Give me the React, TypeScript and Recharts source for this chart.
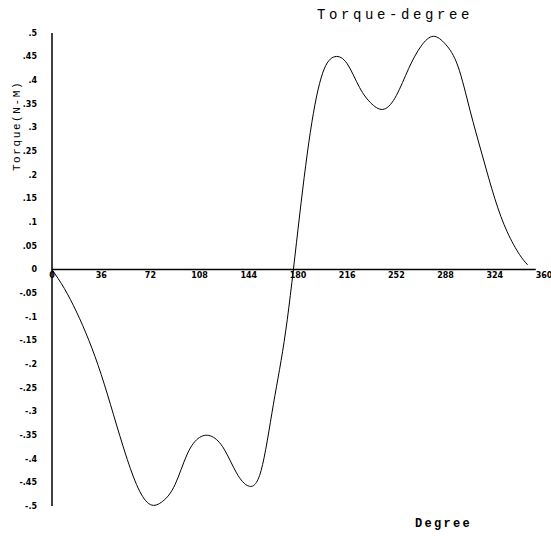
import React from 'react';
import { LineChart, Line, XAxis, YAxis, ReferenceLine, ReferenceDot } from 'recharts';

const degrees = [0, 9, 18, 27, 36, 45, 54, 63, 72, 81, 90, 99, 108, 117, 126, 135, 144, 153, 162, 171, 180, 189, 198, 207, 216, 225, 234, 243, 252, 261, 270, 279, 288, 297, 306, 315, 324, 333, 342, 348];
const torque = [0, -0.04, -0.09, -0.15, -0.222, -0.307, -0.392, -0.462, -0.497, -0.49, -0.455, -0.39, -0.355, -0.353, -0.38, -0.43, -0.458, -0.425, -0.285, -0.13, 0.085, 0.29, 0.415, 0.45, 0.435, 0.385, 0.35, 0.339, 0.368, 0.425, 0.472, 0.493, 0.476, 0.43, 0.335, 0.24, 0.15, 0.08, 0.032, 0.01];

const xTicks = [0, 36, 72, 108, 144, 180, 216, 252, 288, 324, 360];
const xTickLabels = ['0', '36', '72', '108', '144', '180', '216', '252', '288', '324', '360'];
const yTicks = [0.5, 0.45, 0.4, 0.35, 0.3, 0.25, 0.2, 0.15, 0.1, 0.05, 0, -0.05, -0.1, -0.15, -0.2, -0.25, -0.3, -0.35, -0.4, -0.45, -0.5];
const yTickLabels = ['.5', '.45', '.4', '.35', '.3', '.25', '.2', '.15', '.1', '.05', '0', '-.05', '-.1', '-.15', '-.2', '-.25', '-.3', '-.35', '-.4', '-.45', '-.5'];

const data = degrees.map((d, i) => ({ deg: d, torque: torque[i] }));

export default function App() {
  return (
    <div style={{ position: 'absolute', left: 0, top: 0, width: 551, height: 539, background: '#fff' }}>
      <LineChart width={551} height={539} data={data} margin={{ top: 33, right: 7, bottom: 33, left: 0 }}>
        <XAxis dataKey="deg" type="number" domain={[0, 360]} hide />
        <YAxis
          type="number"
          domain={[-0.5, 0.5]}
          ticks={yTicks}
          interval={0}
          width={52}
          tickLine={false}
          tickSize={6}
          tickMargin={9}
          axisLine={{ stroke: '#000', strokeWidth: 1.5 }}
          tickFormatter={(v: number) => yTickLabels[yTicks.indexOf(v)] ?? ''}
          tick={{ fontSize: 8, fontWeight: 'bold', fill: '#000', fontFamily: 'DejaVu Sans' }}
        />
        <ReferenceLine segment={[{ x: 0, y: 0 }, { x: 354, y: 0 }]} stroke="#000" strokeWidth={1.5} />
        {xTicks.map((t, i) => (
          <ReferenceDot
            key={t}
            x={t}
            y={0}
            r={0}
            fill="none"
            stroke="none"
            label={{ value: xTickLabels[i], position: 'bottom', offset: 3, fontSize: 8, fontWeight: 'bold', fill: '#000', fontFamily: 'DejaVu Sans' }}
          />
        ))}
        <Line type="natural" dataKey="torque" stroke="#000" strokeWidth={1} dot={false} isAnimationActive={false} />
      </LineChart>
      <div style={{ position: 'absolute', left: 317, top: 7, fontFamily: 'Liberation Mono', fontSize: 14, letterSpacing: 3.6, color: '#000', whiteSpace: 'nowrap' }}>
        Torque-degree
      </div>
      <div style={{ position: 'absolute', left: 415, top: 517, fontFamily: 'Liberation Mono', fontSize: 12, fontWeight: 'bold', letterSpacing: 2.3, color: '#000', whiteSpace: 'nowrap' }}>
        Degree
      </div>
      <div style={{ position: 'absolute', left: 17, top: 126, transform: 'translate(-50%, -50%) rotate(-90deg)', fontFamily: 'Liberation Mono', fontSize: 11, letterSpacing: 1.6, color: '#000', whiteSpace: 'nowrap' }}>
        Torque(N-M)
      </div>
    </div>
  );
}
